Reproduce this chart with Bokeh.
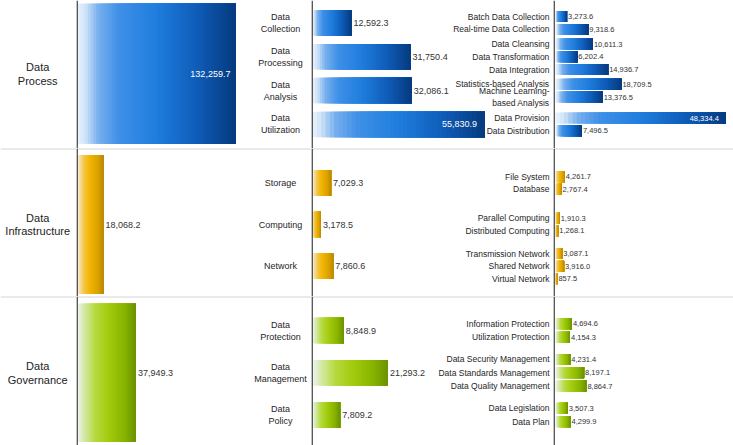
import numpy as np
from bokeh.plotting import figure
from bokeh.models import Range1d, Span
from bokeh.layouts import row, column
from bokeh.embed import file_html
from bokeh.resources import INLINE
from bokeh.core.properties import value

# ---------------- data ----------------
SECTIONS = ["Data\nProcess", "Data\nInfrastructure", "Data\nGovernance"]
SECTION_TOTALS = [132259.7, 18068.2, 37949.3]

PROCESS_L2 = ["Data\nCollection", "Data\nProcessing", "Data\nAnalysis", "Data\nUtilization"]
PROCESS_L2_VALUES = [12592.3, 31750.4, 32086.1, 55830.9]
INFRA_L2 = ["Storage", "Computing", "Network"]
INFRA_L2_VALUES = [7029.3, 3178.5, 7860.6]
GOV_L2 = ["Data\nProtection", "Data\nManagement", "Data\nPolicy"]
GOV_L2_VALUES = [8848.9, 21293.2, 7809.2]

PROCESS_L3 = ["Batch Data Collection", "Real-time Data Collection", "Data Cleansing",
              "Data Transformation", "Data Integration", "Statistics-based Analysis",
              "Machine Learning-\nbased Analysis", "Data Provision", "Data Distribution"]
PROCESS_L3_PARENT = [0, 0, 1, 1, 1, 2, 2, 3, 3]
PROCESS_L3_VALUES = [3273.6, 9318.6, 10611.3, 6202.4, 14936.7, 18709.5, 13376.5, 48334.4, 7496.5]

INFRA_L3 = ["File System", "Database", "Parallel Computing", "Distributed Computing",
            "Transmission Network", "Shared Network", "Virtual Network"]
INFRA_L3_PARENT = [0, 0, 1, 1, 2, 2, 2]
INFRA_L3_VALUES = [4261.7, 2767.4, 1910.3, 1268.1, 3087.1, 3916.0, 857.5]

GOV_L3 = ["Information Protection", "Utilization Protection", "Data Security Management",
          "Data Standards Management", "Data Quality Management", "Data Legislation", "Data Plan"]
GOV_L3_PARENT = [0, 0, 1, 1, 1, 2, 2]
GOV_L3_VALUES = [4694.6, 4154.3, 4231.4, 8197.1, 8864.7, 3507.3, 4299.9]

L2_NAMES = [PROCESS_L2, INFRA_L2, GOV_L2]
L2_VALUES = [PROCESS_L2_VALUES, INFRA_L2_VALUES, GOV_L2_VALUES]
L3_NAMES = [PROCESS_L3, INFRA_L3, GOV_L3]
L3_PARENTS = [PROCESS_L3_PARENT, INFRA_L3_PARENT, GOV_L3_PARENT]
L3_VALUES = [PROCESS_L3_VALUES, INFRA_L3_VALUES, GOV_L3_VALUES]

# value-axis maximum of every panel (each panel had its own scale)
AXIS_MAX_L1 = [196000, 163000, 152000]
AXIS_MAX_L2 = [78000, 91000, 68000]
AXIS_MAX_L3 = [50500, 81000, 51000]

# ---------------- layout / style ----------------
FONT = "Liberation Sans"
COL_W = [76, 235, 242, 180]
COL_OFF = [0, 1, 1, 2]          # px from the panel edge to the value 0
ROW_H = [148, 148, 149]
ROW_FIRST = [22.5, 34.5, 34.0]  # px from row top to first level-2 centre
ROW_STEP = [33.8, 41.6, 42.25]  # px between level-2 centres
L1_BAR_PX = [140, 139, 138]
L2_BAR_PX = 25.5
L3_BAR_PX = 11
L3_STEP_PX = [12.8, 12.6, 13.3]

STOPS = [
    [(0.0, "#eaf3fc"), (0.05, "#cfe3f8"), (0.13, "#78b0ee"), (0.26, "#3f90e7"),
     (0.5, "#1f7ddd"), (0.76, "#0f5cb8"), (1.0, "#053a7e")],
    [(0.0, "#f6f2e8"), (0.1, "#f4dc9c"), (0.28, "#f3c33c"), (0.5, "#f2b400"),
     (0.8, "#d9a000"), (1.0, "#b88a00")],
    [(0.0, "#eef4f6"), (0.1, "#d8eaae"), (0.3, "#b6da40"), (0.52, "#a4cc10"),
     (0.8, "#88b400"), (1.0, "#6a9200")],
]


def color_at(stops, t):
    for (t0, c0), (t1, c1) in zip(stops[:-1], stops[1:]):
        if t <= t1:
            a = (t - t0) / (t1 - t0)
            r0 = [int(c0[i:i + 2], 16) for i in (1, 3, 5)]
            r1 = [int(c1[i:i + 2], 16) for i in (1, 3, 5)]
            return "#%02x%02x%02x" % tuple(round(x + (y - x) * a) for x, y in zip(r0, r1))
    return stops[-1][1]


def make_fig(w, h, xr, yr):
    p = figure(width=w, height=h, x_range=xr, y_range=yr, toolbar_location=None,
               output_backend="svg", min_border=0, x_axis_type=None, y_axis_type=None,
               outline_line_color=None, background_fill_color="white",
               border_fill_color="white")
    return p


def scale(col, vmax):
    W, off = COL_W[col], COL_OFF[col]
    k = (W - off) / vmax
    return k, Range1d(-off / k, vmax)


def gradient_bars(p, ys, vals, height, stops, n=40):
    lefts, rights, yy, cols = [], [], [], []
    for y, v in zip(ys, vals):
        for i in range(n):
            lefts.append(v * i / n)
            rights.append(v)
            yy.append(y)
            cols.append(color_at(stops, (i + 0.5) / n))
    p.hbar(y=yy, left=lefts, right=rights, height=height, fill_color=cols, line_color=None)


def value_labels(p, ys, vals, k, col, size, pad_out, pad_in):
    W, off = COL_W[col], COL_OFF[col]
    inside = [v * k > 0.6 * (W - off) for v in vals]
    txt = [f"{v:,.1f}" for v in vals]
    oi = [i for i in range(len(vals)) if not inside[i]]
    ii = [i for i in range(len(vals)) if inside[i]]
    common = dict(text_baseline="middle", text_font=value(FONT), text_font_size=size)
    if oi:
        p.text(x=[vals[i] for i in oi], y=[ys[i] for i in oi], text=[txt[i] for i in oi],
               x_offset=pad_out, text_align="left", text_color="#333333", **common)
    if ii:
        p.text(x=[vals[i] for i in ii], y=[ys[i] for i in ii], text=[txt[i] for i in ii],
               x_offset=-pad_in, text_align="right", text_color="white", **common)


def vline(p, k, col):
    off = COL_OFF[col]
    p.add_layout(Span(location=(0.6 - off) / k, dimension="height",
                      line_color="#222222", line_width=1.3))


def hsep(p, yr):
    p.add_layout(Span(location=yr.end, dimension="width", line_color="#d6d6d6", line_width=2))


rows = []
for r in range(3):
    H, step, first = ROW_H[r], ROW_STEP[r], ROW_FIRST[r]
    n2 = len(L2_NAMES[r])

    def yr():
        return Range1d((H - first) / step, -first / step)

    # column 0: section label
    p0 = make_fig(COL_W[0], H, Range1d(0, 1), yr())
    p0.text(x=[0.49], y=[(n2 - 1) / 2], text=[SECTIONS[r]], text_align="center",
            text_baseline="middle", text_font=value(FONT), text_font_size="11px",
            text_color="#222222", text_line_height=1.15)

    # column 1: level-1 bar + level-2 labels
    k1, xr1 = scale(1, AXIS_MAX_L1[r])
    p1 = make_fig(COL_W[1], H, xr1, yr())
    y1 = [(n2 - 1) / 2]
    gradient_bars(p1, y1, [SECTION_TOTALS[r]], L1_BAR_PX[r] / step, STOPS[r], n=60)
    value_labels(p1, y1, [SECTION_TOTALS[r]], k1, 1, "9px", 2, 5)
    lab_x = (204 - COL_OFF[1]) / k1
    p1.text(x=[lab_x] * n2, y=list(range(n2)), text=L2_NAMES[r], text_align="center",
            text_baseline="middle", text_font=value(FONT), text_font_size="9px",
            text_color="#262626", text_line_height=1.2)

    # column 2: level-2 bars + level-3 labels
    k2, xr2 = scale(2, AXIS_MAX_L2[r])
    p2 = make_fig(COL_W[2], H, xr2, yr())
    y2 = list(range(n2))
    gradient_bars(p2, y2, L2_VALUES[r], L2_BAR_PX / step, STOPS[r])
    value_labels(p2, y2, L2_VALUES[r], k2, 2, "9px", 2, 8)

    parents = L3_PARENTS[r]
    y3 = []
    for j, par in enumerate(parents):
        members = [i for i, q in enumerate(parents) if q == par]
        pos = members.index(j)
        y3.append(par + (pos - (len(members) - 1) / 2) * L3_STEP_PX[r] / step)
    lab3_x = (238 - COL_OFF[2]) / k2
    p2.text(x=[lab3_x] * len(y3), y=y3, text=L3_NAMES[r], text_align="right",
            text_baseline="middle", text_font=value(FONT), text_font_size="8.5px",
            text_color="#262626", text_line_height=1.15)

    # column 3: level-3 bars
    k3, xr3 = scale(3, AXIS_MAX_L3[r])
    p3 = make_fig(COL_W[3], H, xr3, yr())
    gradient_bars(p3, y3, L3_VALUES[r], L3_BAR_PX / step, STOPS[r])
    value_labels(p3, y3, L3_VALUES[r], k3, 3, "7.5px", 1, 7)

    figs = [p0, p1, p2, p3]
    if r > 0:
        for p in figs:
            hsep(p, p.y_range)
    vline(p1, k1, 1)
    vline(p2, k2, 2)
    vline(p3, k3, 3)
    rows.append(row(*figs))

layout = column(*rows)
open("out.html", "w").write(file_html(layout, INLINE))
